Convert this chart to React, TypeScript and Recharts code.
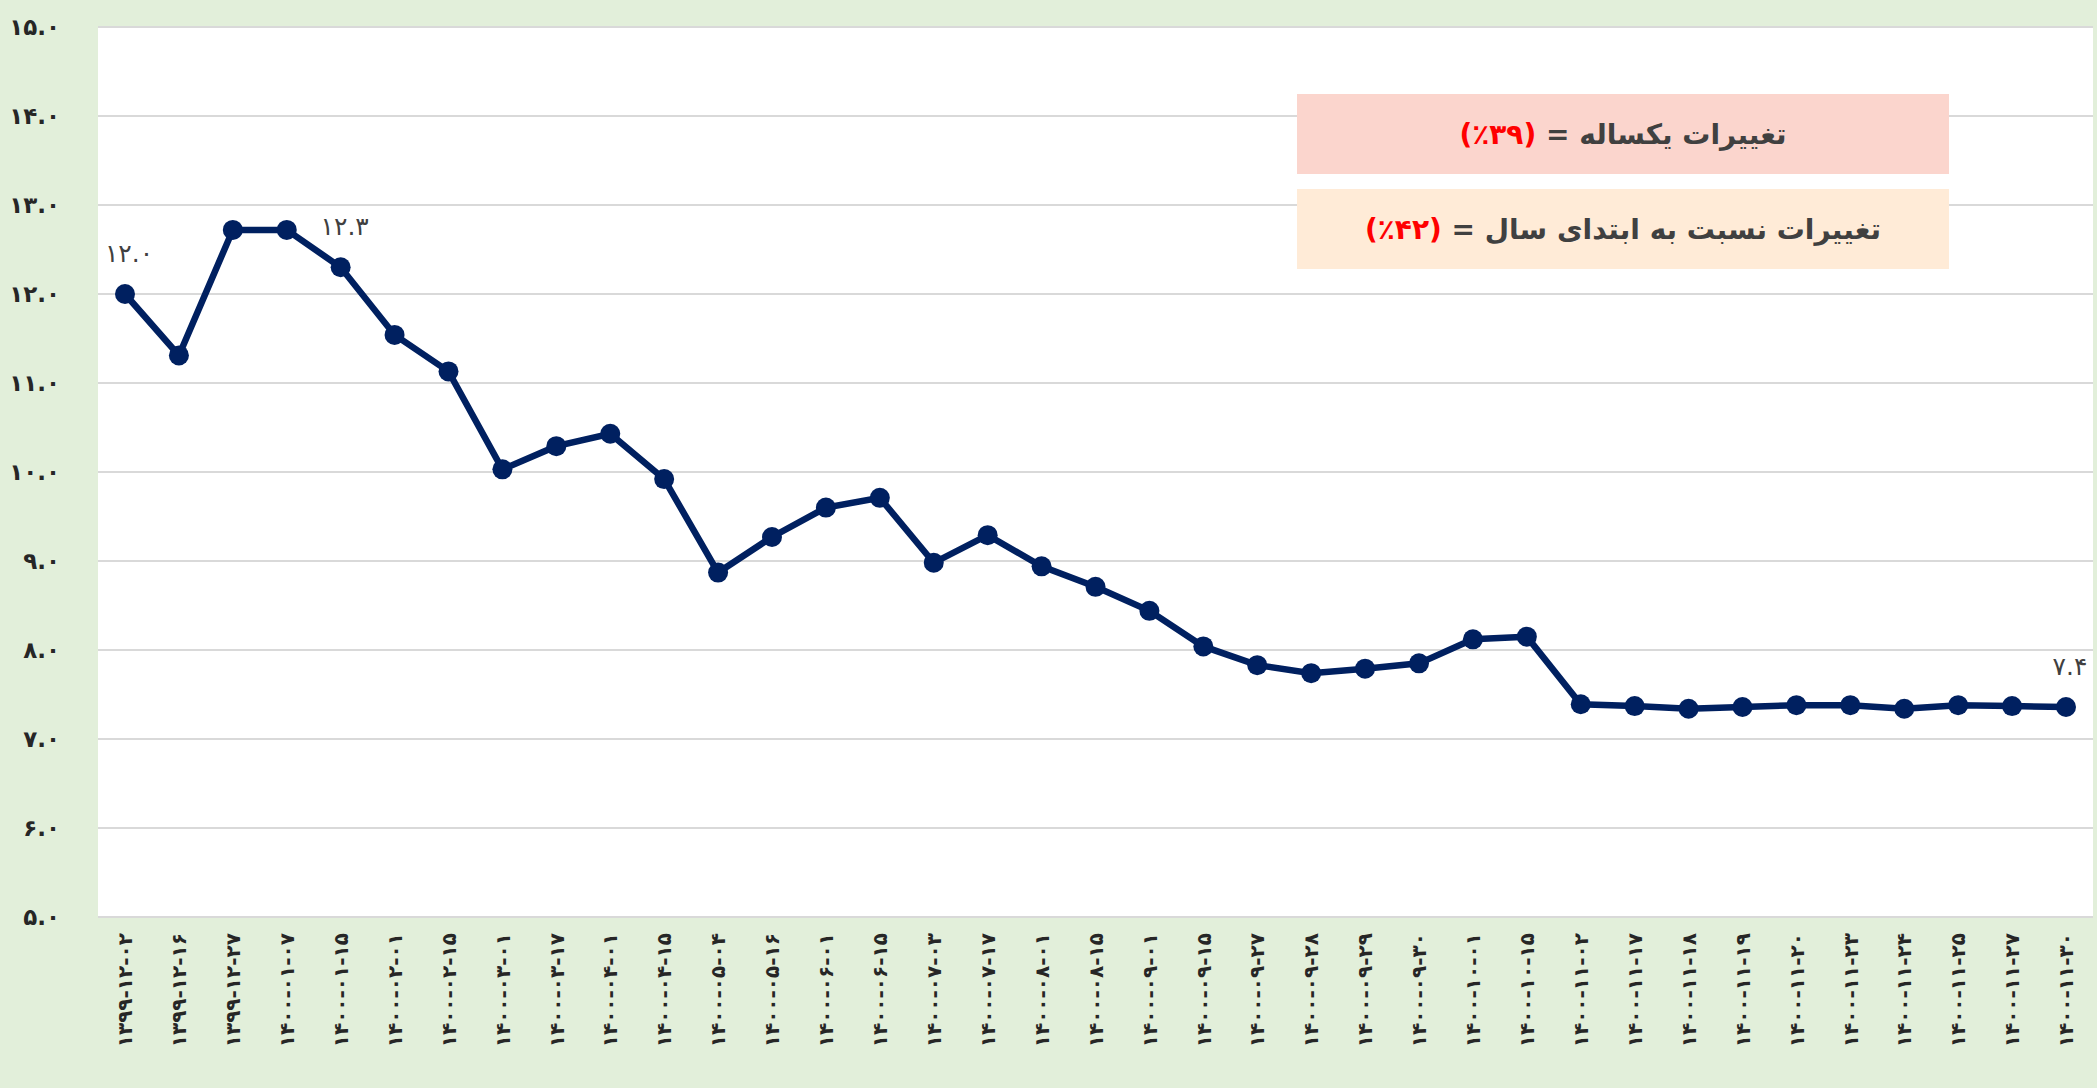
import React from "react";
import { LineChart, Line, XAxis, YAxis, CartesianGrid, LabelList } from "recharts";

const dates = [
  "۱۳۹۹-۱۲-۰۲", "۱۳۹۹-۱۲-۱۶", "۱۳۹۹-۱۲-۲۷", "۱۴۰۰-۰۱-۰۷", "۱۴۰۰-۰۱-۱۵",
  "۱۴۰۰-۰۲-۰۱", "۱۴۰۰-۰۲-۱۵", "۱۴۰۰-۰۳-۰۱", "۱۴۰۰-۰۳-۱۷", "۱۴۰۰-۰۴-۰۱",
  "۱۴۰۰-۰۴-۱۵", "۱۴۰۰-۰۵-۰۴", "۱۴۰۰-۰۵-۱۶", "۱۴۰۰-۰۶-۰۱", "۱۴۰۰-۰۶-۱۵",
  "۱۴۰۰-۰۷-۰۳", "۱۴۰۰-۰۷-۱۷", "۱۴۰۰-۰۸-۰۱", "۱۴۰۰-۰۸-۱۵", "۱۴۰۰-۰۹-۰۱",
  "۱۴۰۰-۰۹-۱۵", "۱۴۰۰-۰۹-۲۷", "۱۴۰۰-۰۹-۲۸", "۱۴۰۰-۰۹-۲۹", "۱۴۰۰-۰۹-۳۰",
  "۱۴۰۰-۱۰-۰۱", "۱۴۰۰-۱۰-۱۵", "۱۴۰۰-۱۱-۰۲", "۱۴۰۰-۱۱-۱۷", "۱۴۰۰-۱۱-۱۸",
  "۱۴۰۰-۱۱-۱۹", "۱۴۰۰-۱۱-۲۰", "۱۴۰۰-۱۱-۲۳", "۱۴۰۰-۱۱-۲۴", "۱۴۰۰-۱۱-۲۵",
  "۱۴۰۰-۱۱-۲۷", "۱۴۰۰-۱۱-۳۰",
];

const values = [
  12.0, 11.31, 12.72, 12.72, 12.3, 11.54, 11.13, 10.03, 10.29, 10.43,
  9.92, 8.87, 9.27, 9.6, 9.71, 8.98, 9.29, 8.94, 8.71, 8.44,
  8.04, 7.83, 7.74, 7.79, 7.85, 8.12, 8.15, 7.39, 7.37, 7.34,
  7.36, 7.38, 7.38, 7.34, 7.38, 7.37, 7.36,
];

// points that carry a value label
const labelledPoints = [0, 4, 36];

const yTicks = [5, 6, 7, 8, 9, 10, 11, 12, 13, 14, 15];

const notes = [
  { title: "تغییرات یکساله", pct: "۳۹" },
  { title: "تغییرات نسبت به ابتدای سال", pct: "۴۲" },
];
const noteColors = ["#FBD5CD", "#FFEBD7"];

const faDigits = "۰۱۲۳۴۵۶۷۸۹";
const toFa = (s: string) => s.replace(/[0-9]/g, (d) => faDigits[Number(d)]);

const data = dates.map((d, i) => ({
  date: d,
  value: values[i],
  tag: labelledPoints.includes(i) ? values[i] : null,
}));

const FONT = "'DejaVu Sans', sans-serif";

const XTick = (props: any) => {
  const { x, y, payload } = props;
  return (
    <g transform={`translate(${x},${y})`}>
      <text
        transform="rotate(-90)"
        textAnchor="end"
        dy="0.36em"
        fontFamily={FONT}
        fontWeight="bold"
        fontSize={20}
        letterSpacing={1.4}
        fill="#262626"
      >
        {payload.value}
      </text>
    </g>
  );
};

const PointLabel = (props: any) => {
  const { x, y, value } = props;
  if (value == null) return null;
  return (
    <text
      x={x + 4}
      y={y - 32}
      textAnchor="middle"
      fontFamily={FONT}
      fontSize={25}
      fill="#404040"
    >
      {toFa(Number(value).toFixed(1))}
    </text>
  );
};

export default function App() {
  return (
    <div
      style={{
        position: "absolute",
        left: 0,
        top: 0,
        width: 2097,
        height: 1088,
        background: "#E2EFDA",
      }}
    >
      <LineChart
        width={2097}
        height={1088}
        data={data}
        margin={{ top: 27, right: 4, bottom: 0, left: 0 }}
      >
        <CartesianGrid
          vertical={false}
          fill="#FFFFFF"
          stroke="#D9D9D9"
          strokeWidth={2}
        />
        <XAxis
          dataKey="date"
          height={171}
          interval={0}
          padding={{ left: 27, right: 27 }}
          axisLine={false}
          tickLine={false}
          tickSize={0}
          tickMargin={16}
          tick={<XTick />}
        />
        <YAxis
          width={98}
          domain={[5, 15]}
          ticks={yTicks}
          axisLine={false}
          tickLine={false}
          tickSize={0}
          tickMargin={38}
          tickFormatter={(v: number) => toFa(v.toFixed(1))}
          tick={{ fontFamily: FONT, fontWeight: "bold", fontSize: 23, fill: "#262626" }}
        />
        <Line
          type="linear"
          dataKey="value"
          stroke="#002060"
          strokeWidth={6.5}
          dot={{ r: 10, fill: "#002060", stroke: "none" }}
          isAnimationActive={false}
        >
          <LabelList dataKey="tag" content={<PointLabel />} />
        </Line>
      </LineChart>
      <div
        style={{
          position: "absolute",
          left: 1297,
          top: 94,
          width: 652,
          display: "flex",
          flexDirection: "column",
          gap: 15,
        }}
      >
        {notes.map((n, i) => (
          <div
            key={i}
            dir="rtl"
            style={{
              height: 80,
              background: noteColors[i],
              display: "flex",
              alignItems: "center",
              justifyContent: "center",
              fontFamily: FONT,
              fontWeight: "bold",
              fontSize: 28,
              color: "#404040",
              whiteSpace: "nowrap",
            }}
          >
            <span>
              {n.title} = <span style={{ color: "#FF0000" }}>({n.pct}٪)</span>
            </span>
          </div>
        ))}
      </div>
    </div>
  );
}
